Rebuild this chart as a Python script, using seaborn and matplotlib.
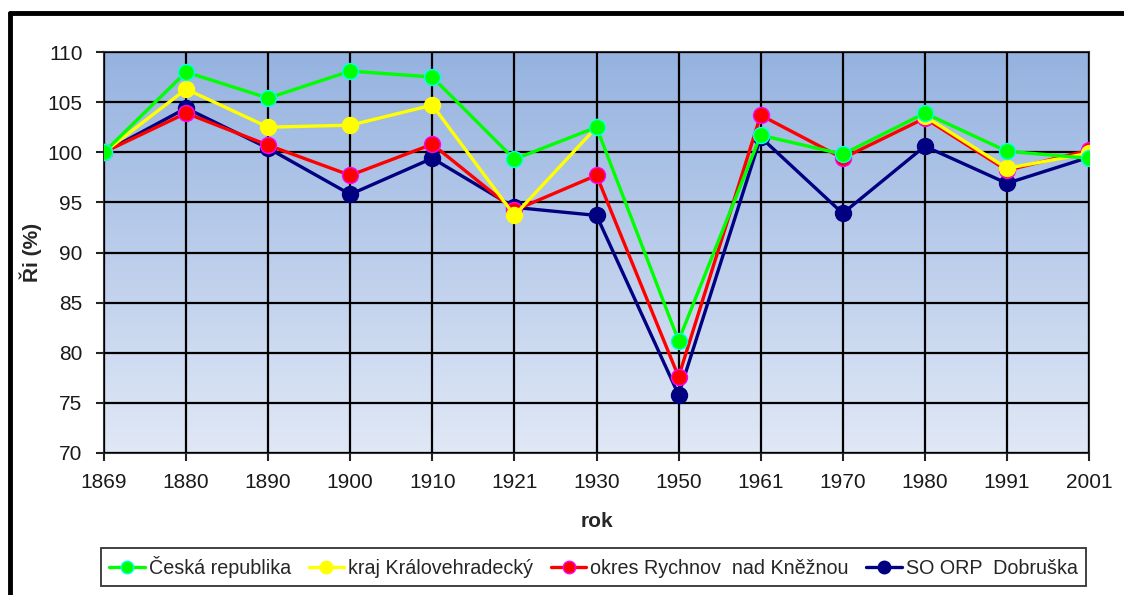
import numpy as np
import pandas as pd
import matplotlib
matplotlib.use("Agg")
import matplotlib.pyplot as plt
from matplotlib.lines import Line2D
import seaborn as sns

years = ["1869", "1880", "1890", "1900", "1910", "1921", "1930",
         "1950", "1961", "1970", "1980", "1991", "2001"]
cr = [100, 108.0, 105.4, 108.1, 107.5, 99.3, 102.5, 81.2, 101.7, 99.8, 103.9, 100.1, 99.4]
kraj = [100, 106.3, 102.5, 102.7, 104.7, 93.7, 102.5, np.nan, np.nan, np.nan, 103.6, 98.4, 99.9]
okres = [100, 103.9, 100.7, 97.7, 100.8, 94.2, 97.7, 77.6, 103.7, 99.4, 103.4, 98.2, 100.2]
orp = [100, 104.4, 100.4, 95.8, 99.4, 94.5, 93.7, 75.8, 101.5, 93.9, 100.6, 96.9, 99.5]

names = ["Česká republika", "kraj Královehradecký",
         "okres Rychnov  nad Kněžnou", "SO ORP  Dobruška"]
series = [cr, kraj, okres, orp]
colors = ["#00ff00", "#ffff00", "#ff0000", "#000080"]
edges = ["#00ffee", "#ffff00", "#ff00ff", "#000080"]

sns.set_style("white")
plt.rcParams["font.family"] = ["Liberation Sans", "DejaVu Sans"]

fig = plt.figure(figsize=(11.24, 5.95), dpi=100)
ax = fig.add_axes([104 / 1124, 1 - 453 / 595, (1089 - 104) / 1124, (453 - 52) / 595])

# gradient background
grad = np.linspace(0, 1, 256).reshape(-1, 1)
top = np.array([0.585, 0.700, 0.878])
bot = np.array([0.880, 0.910, 0.965])
img = top[None, None, :] * (1 - grad[:, :, None]) + bot[None, None, :] * grad[:, :, None]
ax.imshow(img, extent=[0, 1, 0, 1], transform=ax.transAxes, aspect="auto", zorder=0)

order = [3, 2, 1, 0]
handles = {}
for i in order:
    vals = pd.Series(series[i], dtype=float)
    df = pd.DataFrame({"rok": years, "val": vals,
                       "seg": vals.isna().cumsum()})
    sns.lineplot(data=df, x="rok", y="val", units="seg", estimator=None, ax=ax,
                 color=colors[i], lw=2.4,
                 marker="o", markersize=11.5, markerfacecolor=colors[i],
                 markeredgecolor=edges[i], markeredgewidth=1.0, sort=False,
                 zorder=3 + (3 - i))
    handles[i] = Line2D([], [], color=colors[i], lw=2.4, marker="o", markersize=9,
                        markerfacecolor=colors[i], markeredgecolor=edges[i])
if ax.get_legend():
    ax.get_legend().remove()

ax.set_xlim(0, len(years) - 1)
ax.set_ylim(70, 110)
ax.set_yticks(np.arange(70, 111, 5))
ax.grid(True, color="black", lw=1.6, zorder=1)
ax.set_axisbelow(False)
for gl in ax.get_xgridlines() + ax.get_ygridlines():
    gl.set_zorder(1.5)
for s in ax.spines.values():
    s.set_color("#333333")
    s.set_linewidth(1.5)

ax.tick_params(axis="both", which="major", direction="out", length=5.5, width=1.5,
               color="#222222", labelsize=15, labelcolor="#1a1a1a", pad=9,
               bottom=True, left=True)
ax.tick_params(axis="y", pad=10)

ax.set_xlabel("rok", fontsize=15, fontweight="bold", labelpad=14)
ax.set_ylabel("Ři (%)", fontsize=15, fontweight="bold", labelpad=4)

leg = fig.legend([handles[i] for i in range(4)], names, loc="center",
                 bbox_to_anchor=((97 + 1090) / 2 / 1124, 1 - 567 / 595),
                 ncol=4, frameon=True, fancybox=False, fontsize=14.2,
                 handlelength=1.8, handletextpad=0.2, columnspacing=0.9,
                 borderpad=0.4)
leg.get_frame().set_edgecolor("black")
leg.get_frame().set_linewidth(1.3)

# outer chart frame (top and left edges visible)
fig.add_artist(Line2D([10 / 1124, 10 / 1124], [0, 1 - 13 / 595], transform=fig.transFigure,
                      color="black", lw=3.5))
fig.add_artist(Line2D([10 / 1124, 1], [1 - 13 / 595, 1 - 13 / 595], transform=fig.transFigure,
                      color="black", lw=3.5))

fig.savefig("out.png", dpi=100)
